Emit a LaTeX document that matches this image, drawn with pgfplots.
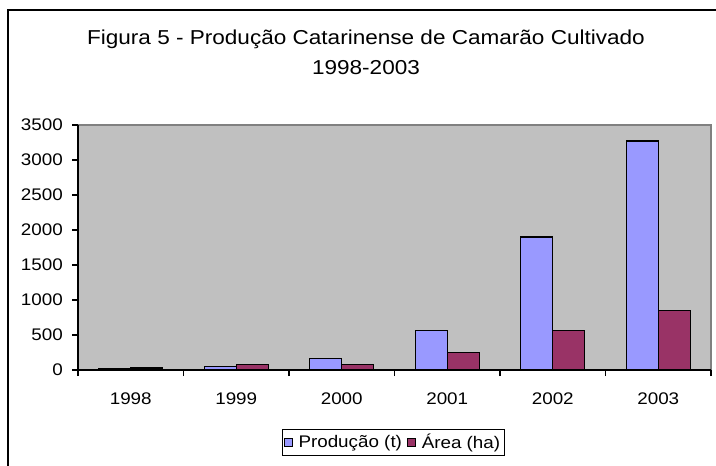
\documentclass[border=0pt]{standalone}
\usepackage{fontspec}
\setmainfont[FakeStretch=1.12]{Liberation Sans}
\usepackage{pgfplots}
\pgfplotsset{compat=1.18}
\definecolor{prodblue}{HTML}{9999FF}
\definecolor{areamaroon}{HTML}{993366}
\definecolor{plotgray}{HTML}{C0C0C0}
\begin{document}
\begin{tikzpicture}[x=1pt,y=1pt]
\useasboundingbox (0,0) rectangle (537,348.75);
\clip (0,0) rectangle (537,348.75);
\fill[white] (0,0) rectangle (537,348.75);
\draw[line width=1.5pt] (6,-10) -- (6,341.25) -- (560,341.25);
\node[anchor=base,font=\fontsize{15.1}{18}\selectfont] at (274.5,315) {Figura 5 - Produção Catarinense de Camarão Cultivado};
\node[anchor=base,font=\fontsize{15.1}{18}\selectfont] at (274.5,292.5) {1998-2003};
\begin{axis}[
  at={(58.5pt,71.25pt)}, anchor=south west,
  scale only axis, width=474.75pt, height=183.75pt,
  xmin=-0.5, xmax=5.5, ymin=0, ymax=3500,
  ytick={0,500,...,3500},
  xtick={0,...,5},
  xticklabels={1998,1999,2000,2001,2002,2003},
  minor xtick={-0.5,0.5,...,5.5},
  major x tick style={draw=none},
  tick align=outside,
  major tick length=4.5pt, minor tick length=4.5pt,
  tick style={black, line width=0.8pt},
  axis x line*=bottom, axis y line*=left,
  axis line style={black, line width=1.2pt, -},
  axis background/.style={fill=plotgray, draw=gray, line width=0.8pt},
  /pgf/number format/assume math mode=true,
  /pgf/number format/1000 sep={},
  tick label style={font=\fontsize{12.6}{14}\selectfont},
  yticklabel style={inner sep=0pt, xshift=-6.75pt},
  xticklabel style={inner sep=0pt, yshift=-12.5pt},
  ybar, bar width=24pt,
  legend style={at={(0.4984,-0.2959)}, anchor=center, draw=black, line width=0.8pt,
    font=\fontsize{12.6}{14}\selectfont, legend columns=2,
    inner xsep=1.5pt, inner ysep=1.5pt, column sep=2pt},
  legend image code/.code={\draw[#1,draw=black,line width=0.8pt] (0pt,-3pt) rectangle (6pt,3pt);},
]
\addplot[fill=prodblue, draw=black, line width=1pt, bar shift=-12pt] coordinates {(0,25) (1,48) (2,165) (3,560) (4,1900) (5,3270)};
\addplot[fill=areamaroon, draw=black, line width=1pt, bar shift=12pt] coordinates {(0,30) (1,80) (2,78) (3,252) (4,560) (5,852)};
\legend{Produção (t), Área (ha)}
\end{axis}
\end{tikzpicture}
\end{document}
